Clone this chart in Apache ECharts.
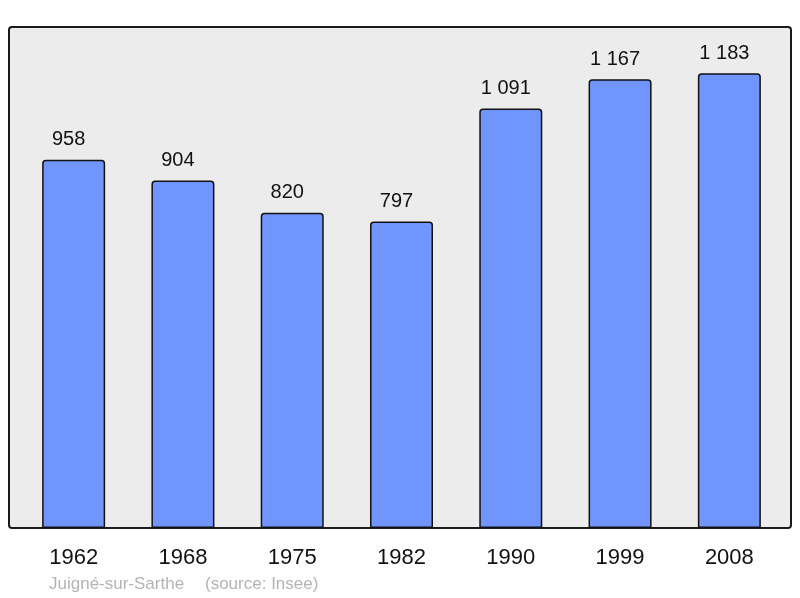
<!DOCTYPE html>
<html>
<head>
<meta charset="utf-8">
<script src="https://cdn.jsdelivr.net/npm/echarts@6/dist/echarts.min.js"></script>
<style>
html, body { margin: 0; padding: 0; background: #fff; }
#chart { width: 800px; height: 598px; }
</style>
</head>
<body>
<div id="chart"></div>
<script>
// années du recensement
var years = ['1962', '1968', '1975', '1982', '1990', '1999', '2008'];
// population
var population = [958, 904, 820, 797, 1091, 1167, 1183];
var placeName = 'Juigné-sur-Sarthe';
var sourceText = '(source: Insee)';

// séparateur de milliers à la française
function fmt(v) {
	return String(v).replace(/\B(?=(\d{3})+(?!\d))/g, ' ');
}

var font = 'Liberation Sans, Arial, sans-serif';
var chart = echarts.init(document.getElementById('chart'));
chart.setOption({
	animation: false,
	textStyle: { fontFamily: font },
	grid: { left: 19, right: 16, top: 27, bottom: 70 },
	graphic: [
		{
			type: 'rect',
			shape: { x: 9, y: 27, width: 782, height: 501, r: 3 },
			style: { fill: '#ececec', stroke: '#1a1a1a', lineWidth: 2 },
			z: -1
		},
		{
			type: 'text',
			left: 49, top: 576,
			style: { text: placeName, fill: '#b4b4b4', font: '17px ' + font }
		},
		{
			type: 'text',
			left: 205, top: 576,
			style: { text: sourceText, fill: '#b4b4b4', font: '17px ' + font }
		}
	],
	xAxis: {
		type: 'category',
		data: years,
		axisLine: { show: false },
		axisTick: { show: false },
		axisLabel: { color: '#111', fontSize: 22, margin: 19 }
	},
	yAxis: {
		type: 'value',
		min: 0,
		max: 1303,
		show: false
	},
	series: [{
		type: 'bar',
		data: population,
		barWidth: 63,
		itemStyle: { color: '#7095ff', borderColor: '#111', borderWidth: 1.5, borderRadius: [3, 3, 0, 0] },
		label: {
			show: true,
			position: 'top',
			distance: 10,
			offset: [-5, 0],
			color: '#111',
			fontSize: 20,
			formatter: function (p) { return fmt(p.value); }
		}
	}]
});
</script>
</body>
</html>
